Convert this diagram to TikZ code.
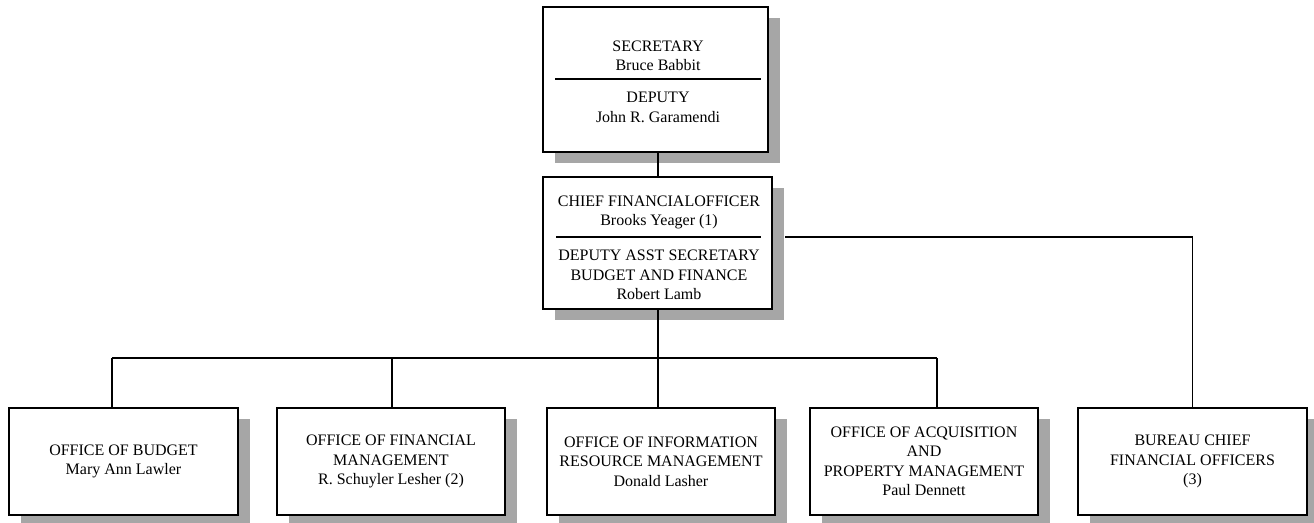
\documentclass[tikz,border=0pt]{standalone}
\usepackage{fontspec}
\setmainfont{Liberation Serif}
\usetikzlibrary{shadows}
\definecolor{shadowgray}{HTML}{A6A6A6}
\newcommand{\orgfont}{\fontsize{16}{19.5}\selectfont}
\begin{document}
\begin{tikzpicture}[x=1pt,y=-1pt,
  orgbox/.style={draw=black, line width=1.5pt, fill=white, inner sep=0pt, align=center, font=\orgfont,
    drop shadow={shadow xshift=12pt, shadow yshift=-11pt, fill=shadowgray, opacity=1}},
  orgtext/.style={inner sep=0pt, align=center, font=\orgfont},
  link/.style={draw=black, line width=1.2pt},
  divider/.style={draw=black, line width=1.5pt}]
\useasboundingbox (0,0) rectangle (1314,522);

% top box
\node[orgbox, minimum width=225pt, minimum height=145pt] (sec) at (655.5,79.5) {};
\node[orgtext] (secname) at (658,56) {SECRETARY\\Bruce Babbit};
\node[orgtext] (depname) at (658,107.5) {DEPUTY\\John R. Garamendi};
\coordinate (secdivL) at (555,79);
\coordinate (secdivR) at (761,79);
\draw[divider] (secdivL) -- (secdivR);

% CFO box
\node[orgbox, minimum width=229pt, minimum height=132pt] (cfo) at (657.5,243) {};
\node[orgtext] (cfoname) at (659,212.5) {CHIEF FINANCIALOFFICER\\Brooks Yeager (1)};
\node[orgtext] (dasname) at (659,275) {DEPUTY ASST SECRETARY\\BUDGET AND FINANCE\\Robert Lamb};
\coordinate (cfodivL) at (556,237);
\coordinate (cfodivR) at (761,237);
\draw[divider] (cfodivL) -- (cfodivR);

% bottom row
\node[orgbox, minimum width=229pt, minimum height=107pt] (budget) at (123.5,461.5) {OFFICE OF BUDGET\\Mary Ann Lawler};
\node[orgbox, minimum width=228pt, minimum height=107pt] (finmgmt) at (391,461.5) {OFFICE OF FINANCIAL\\MANAGEMENT\\R. Schuyler Lesher (2)};
\node[orgbox, minimum width=228pt, minimum height=107pt] (info) at (661,461.5) {OFFICE OF INFORMATION\\RESOURCE MANAGEMENT\\Donald Lasher};
\node[orgbox, minimum width=228pt, minimum height=107pt] (acq) at (924,461.5) {OFFICE OF ACQUISITION\\AND\\PROPERTY MANAGEMENT\\Paul Dennett};
\node[orgbox, minimum width=229pt, minimum height=107pt] (bureau) at (1192.5,461.5) {BUREAU CHIEF\\FINANCIAL OFFICERS\\(3)};

% connectors
\coordinate (trunk) at (658,358);
\coordinate (busL) at (112,358);
\coordinate (busF) at (392,358);
\coordinate (busR) at (937,358);
\coordinate (cfotap) at (785,237);
\draw[link] (trunk |- sec.south) -- (trunk |- cfo.north);
\draw[link] (trunk |- cfo.south) -- (trunk);
\draw[link] (busL) -- (busR);
\draw[link] (busL) -- (busL |- budget.north);
\draw[link] (busF) -- (busF |- finmgmt.north);
\draw[link] (trunk) -- (trunk |- info.north);
\draw[link] (busR) -- (busR |- acq.north);
\draw[link] (cfotap) -| (bureau.north);
\end{tikzpicture}
\end{document}
